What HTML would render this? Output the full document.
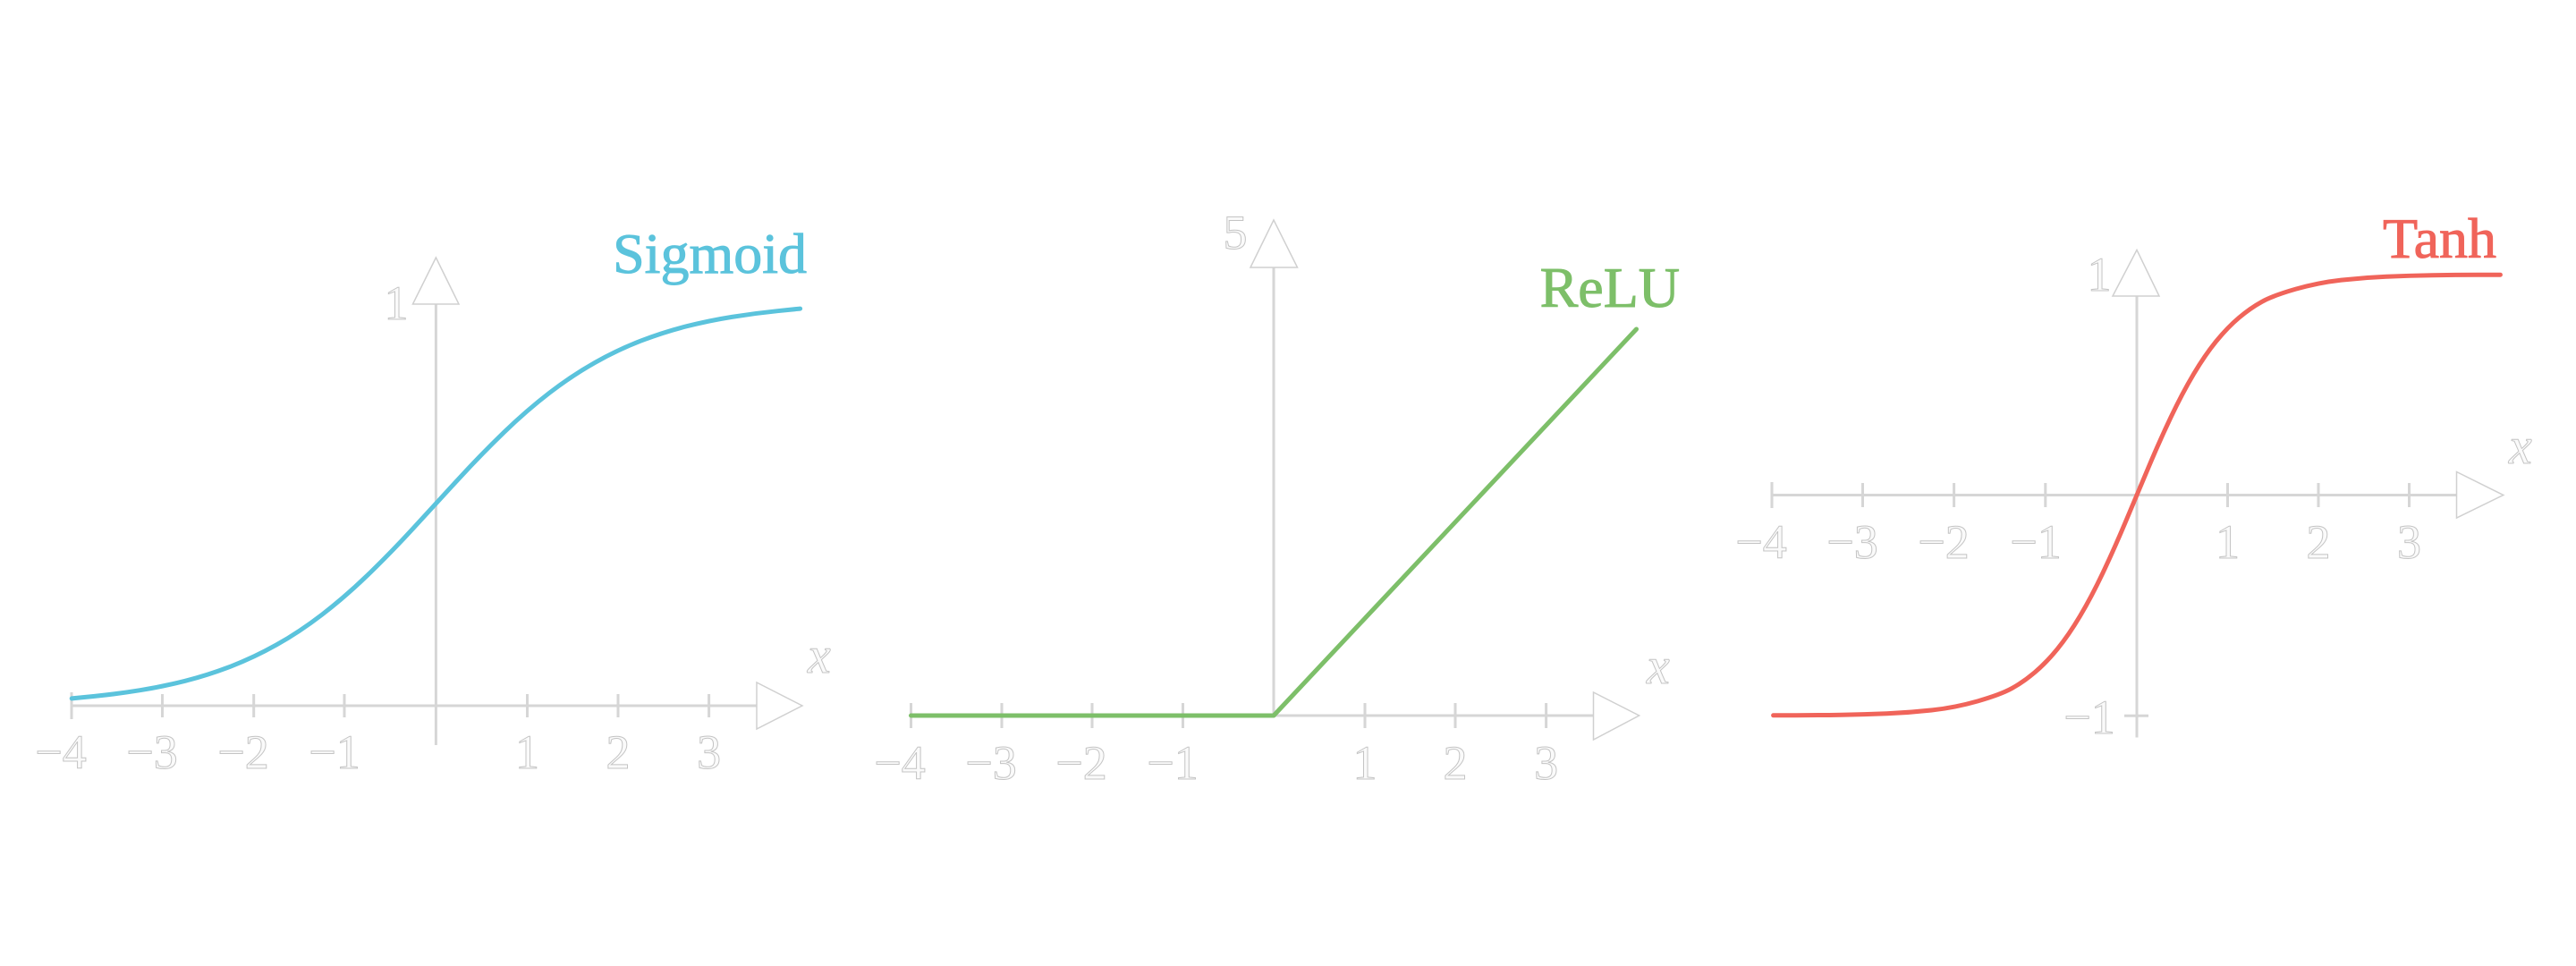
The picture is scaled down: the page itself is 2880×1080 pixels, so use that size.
<!DOCTYPE html>
<html><head><meta charset="utf-8"><style>
html,body{margin:0;padding:0;background:#fff;}
svg{display:block;}
.ax{stroke:#d6d6d6;stroke-width:3;fill:none;}
.arr{fill:#fff;stroke:#d0d0d0;stroke-width:1.5;}
.lb{font-family:"Liberation Serif",serif;font-size:54px;fill:#fafafa;stroke:#c4c4c4;stroke-width:1;text-anchor:middle;}
.xl{font-family:"Liberation Serif",serif;font-style:italic;font-size:58px;fill:#fafafa;stroke:#c4c4c4;stroke-width:1;}
.tt{font-family:"Liberation Serif",serif;font-size:64px;stroke-width:1;}
.cv{fill:none;stroke-width:5;stroke-linejoin:round;stroke-linecap:round;}
</style></head><body>
<svg width="2880" height="1080" viewBox="0 0 2880 1080" xmlns="http://www.w3.org/2000/svg">
<!-- Sigmoid -->
<g>
<line class="ax" x1="80" y1="789" x2="846" y2="789"/>
<line class="ax" x1="487.4" y1="340" x2="487.4" y2="833"/>
<g class="ax">
<line x1="80" y1="774" x2="80" y2="804"/><line x1="181.5" y1="776" x2="181.5" y2="802"/>
<line x1="283.7" y1="776" x2="283.7" y2="802"/><line x1="385" y1="776" x2="385" y2="802"/>
<line x1="589.5" y1="776" x2="589.5" y2="802"/><line x1="691" y1="776" x2="691" y2="802"/>
<line x1="792.6" y1="776" x2="792.6" y2="802"/>
</g>
<polygon class="arr" points="846,763 897,789 846,815"/>
<polygon class="arr" points="461.5,340 487.4,288 513,340"/>
<text class="lb" x="443" y="357">1</text>
<text class="lb" x="68" y="859">−4</text><text class="lb" x="170" y="859">−3</text>
<text class="lb" x="272" y="859">−2</text><text class="lb" x="374" y="859">−1</text>
<text class="lb" x="589.5" y="859">1</text><text class="lb" x="691" y="859">2</text><text class="lb" x="792.6" y="859">3</text>
<text class="xl" x="903" y="752">x</text>
<path class="cv" stroke="#5bc3dc" d="M80.2,780.9 L105.65,778.35 Q131.1,775.8 156.55,771.7 Q182,767.6 207.45,761.15 Q232.9,754.7 258.35,744.9 Q283.8,735.1 309.25,720.85 Q334.7,706.6 360.15,687.05 Q385.6,667.5 411.05,642.95 Q436.5,618.4 461.95,590.7 Q487.4,563 512.85,535.3 Q538.3,507.6 563.75,483.05 Q589.2,458.5 614.65,438.95 Q640.1,419.4 665.55,405.15 Q691,390.9 716.45,381.1 Q741.9,371.3 767.35,364.85 Q792.8,358.4 818.25,354.35 Q843.7,350.3 869.15,347.7 L894.6,345.1"/>
<text class="tt" x="902" y="305" text-anchor="end" fill="#5bc3dc" stroke="#5bc3dc">Sigmoid</text>
</g>
<!-- ReLU -->
<g>
<line class="ax" x1="1018" y1="800" x2="1782" y2="800"/>
<line class="ax" x1="1424" y1="299" x2="1424" y2="800"/>
<g class="ax">
<line x1="1018.5" y1="786" x2="1018.5" y2="814"/><line x1="1120" y1="786" x2="1120" y2="814"/>
<line x1="1221" y1="786" x2="1221" y2="814"/><line x1="1322.5" y1="786" x2="1322.5" y2="814"/>
<line x1="1526" y1="786" x2="1526" y2="814"/><line x1="1627" y1="786" x2="1627" y2="814"/>
<line x1="1728.6" y1="786" x2="1728.6" y2="814"/>
</g>
<polygon class="arr" points="1781.5,774 1832.6,800 1781.5,827"/>
<polygon class="arr" points="1398,299 1424,246 1450.5,299"/>
<text class="lb" x="1381" y="278">5</text>
<text class="lb" x="1006" y="871">−4</text><text class="lb" x="1108" y="871">−3</text>
<text class="lb" x="1209" y="871">−2</text><text class="lb" x="1311" y="871">−1</text>
<text class="lb" x="1526" y="871">1</text><text class="lb" x="1627" y="871">2</text><text class="lb" x="1728.6" y="871">3</text>
<text class="xl" x="1841" y="764">x</text>
<polyline class="cv" stroke="#7dbf69" points="1018.5,800 1424,800 1829.5,368"/>
<text class="tt" x="1878" y="343" text-anchor="end" fill="#7dbf69" stroke="#7dbf69">ReLU</text>
</g>
<!-- Tanh -->
<g>
<line class="ax" x1="1981" y1="553.5" x2="2747" y2="553.5"/>
<line class="ax" x1="2389" y1="331" x2="2389" y2="824.5"/>
<g class="ax">
<line x1="1981" y1="539" x2="1981" y2="568"/><line x1="2082.5" y1="540" x2="2082.5" y2="567"/>
<line x1="2184.6" y1="540" x2="2184.6" y2="567"/><line x1="2286.8" y1="540" x2="2286.8" y2="567"/>
<line x1="2490.5" y1="540" x2="2490.5" y2="567"/><line x1="2592" y1="540" x2="2592" y2="567"/>
<line x1="2693.5" y1="540" x2="2693.5" y2="567"/>
<line x1="2375" y1="800.3" x2="2402" y2="800.3"/>
</g>
<polygon class="arr" points="2746.5,527.5 2798.8,553.5 2746.5,579"/>
<polygon class="arr" points="2362,331 2389,279.4 2414,331"/>
<text class="lb" x="2347" y="325">1</text>
<text class="lb" x="2336" y="820">−1</text>
<text class="lb" x="1969" y="624">−4</text><text class="lb" x="2071" y="624">−3</text>
<text class="lb" x="2173" y="624">−2</text><text class="lb" x="2276" y="624">−1</text>
<text class="lb" x="2490.5" y="624">1</text><text class="lb" x="2592" y="624">2</text><text class="lb" x="2693.5" y="624">3</text>
<text class="xl" x="2805" y="518">x</text>
<path class="cv" stroke="#f0645a" d="M1982.6,799.8 L2008,799.7 Q2033.4,799.6 2058.8,799.2 Q2084.2,798.8 2109.6,797.75 Q2135,796.7 2160.4,793.9 Q2185.8,791.1 2211.2,783.85 Q2236.6,776.6 2249.3,769.6 Q2262,762.6 2274.7,751.9 Q2287.4,741.2 2300.1,725.65 Q2312.8,710.1 2325.5,688.75 Q2338.2,667.4 2350.9,640.65 Q2363.6,613.9 2376.3,583.7 Q2389,553.5 2401.7,523.3 Q2414.4,493.1 2427.1,466.35 Q2439.8,439.6 2452.5,418.25 Q2465.2,396.9 2477.9,381.35 Q2490.6,365.8 2503.3,355.1 Q2516,344.4 2528.7,337.4 Q2541.4,330.4 2566.8,323.15 Q2592.2,315.9 2617.6,313.1 Q2643,310.3 2668.4,309.25 Q2693.8,308.2 2719.2,307.8 Q2744.6,307.4 2770,307.3 L2795.4,307.2"/>
<text class="tt" x="2791" y="288" text-anchor="end" fill="#f0645a" stroke="#f0645a">Tanh</text>
</g>
</svg>
</body></html>
